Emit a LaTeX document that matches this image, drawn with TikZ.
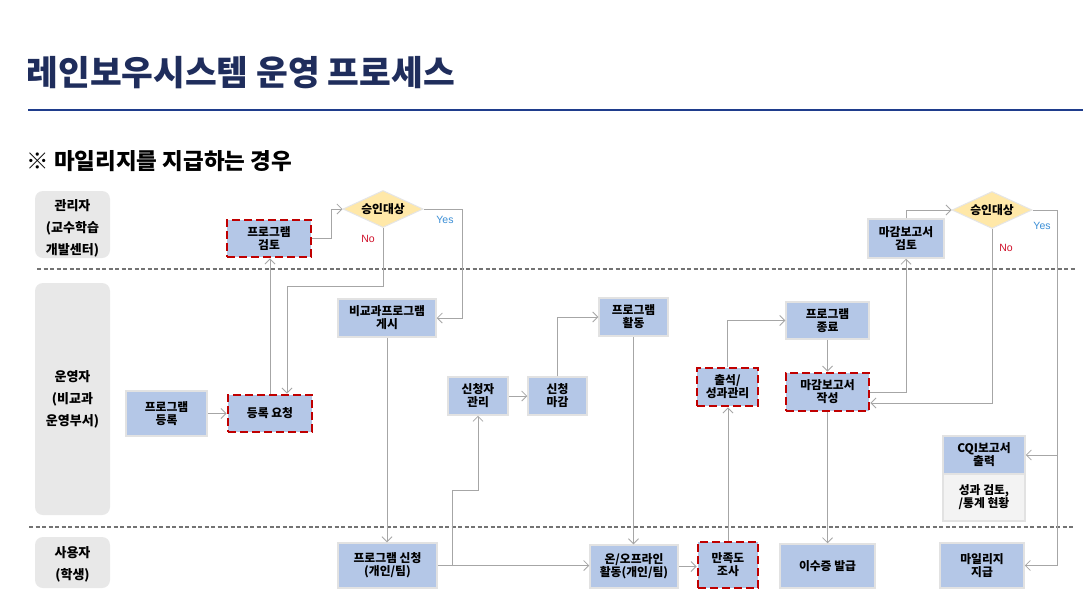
\documentclass[tikz,border=0pt]{standalone}
\usepackage{fontspec}
\setmainfont{Noto Sans CJK KR}
\newfontfamily\latinfont{Liberation Sans}
\usetikzlibrary{arrows.meta,shapes.geometric,calc}

\definecolor{boxblue}{HTML}{B4C7E7}
\definecolor{boxline}{HTML}{E2E2E2}
\definecolor{dashred}{HTML}{C00000}
\definecolor{lanegray}{HTML}{E8E8E8}
\definecolor{notegray}{HTML}{F3F3F3}
\definecolor{diafill}{HTML}{FFE8A8}
\definecolor{flowgray}{HTML}{A6A6A6}
\definecolor{titlenavy}{HTML}{1F2D5C}
\definecolor{rulenavy}{HTML}{1F3D8C}
\definecolor{yesblue}{HTML}{3A8ED6}
\definecolor{nored}{HTML}{D0102A}

\begin{document}
\begin{tikzpicture}[x=1pt,y=-1pt,>={Straight Barb[length=5pt,width=10pt]},
    proc/.style={fill=boxblue,draw=boxline,line width=1.5pt,inner sep=0pt,align=center,
      font=\bfseries\fontsize{11.8}{13}\selectfont},
    redproc/.style={proc,draw=dashred,line width=2.9pt,dash pattern=on 8pt off 4pt},
    decide/.style={diamond,fill=diafill,draw=black!10,line width=1pt,inner sep=0pt,aspect=2.1,
      font=\bfseries\fontsize{11.8}{13}\selectfont},
    lane/.style={fill=lanegray,rounded corners=8pt},
    lanetext/.style={align=center,font=\bfseries\fontsize{13}{22}\selectfont},
    flow/.style={draw=flowgray,line width=0.8pt},
    lanesep/.style={draw=black!55,line width=1.2pt,dash pattern=on 4pt off 2.5pt},
    answer/.style={font=\latinfont\fontsize{10.5}{12}\selectfont}]
    \useasboundingbox[fill=white] (0,0) rectangle (1083,590);

    % title
    \node[anchor=west,text=titlenavy,font=\bfseries\fontsize{34.5}{38}\selectfont] (title) at (23,73) {레인보우시스템 운영 프로세스};
    \draw[rulenavy,line width=2.5pt] (28,110) -- (1083,110);
    \node[anchor=west,font=\bfseries\fontsize{22.5}{26}\selectfont] (case) at (23,161) {※ 마일리지를 지급하는 경우};

    % lanes
    \fill[lane] (35,191) rectangle (110,258);
    \fill[lane] (35,283) rectangle (110,515);
    \fill[lane] (35,537) rectangle (110,588);
    \node[lanetext] (admin) at (72.5,228) {관리자\\(교수학습\\개발센터)};
    \node[lanetext] (oper) at (72.5,399) {운영자\\(비교과\\운영부서)};
    \node[lanetext] (user) at (72.5,564) {사용자\\(학생)};
    \draw[lanesep] (37,269) -- (1075,269);
    \draw[lanesep] (29,527) -- (1075,527);

    % nodes
    \node[redproc,minimum width=84,minimum height=37] (review) at (269,238.5) {프로그램\\검토};
    \node[decide,minimum width=80,minimum height=37] (ok1) at (383,209) {승인대상};
    \node[proc,minimum width=81,minimum height=45] (register) at (166.5,413.5) {프로그램\\등록};
    \node[redproc,minimum width=84,minimum height=37] (request) at (270,413.5) {등록 요청};
    \node[proc,minimum width=98,minimum height=38] (post) at (387,318) {비교과프로그램\\게시};
    \node[proc,minimum width=60,minimum height=38] (manage) at (478,396) {신청자\\관리};
    \node[proc,minimum width=59,minimum height=38] (close) at (557.5,396) {신청\\마감};
    \node[proc,minimum width=69,minimum height=38] (activity) at (633.5,317) {프로그램\\활동};
    \node[redproc,minimum width=61,minimum height=38] (attend) at (727.5,387) {출석/\\성과관리};
    \node[proc,minimum width=83,minimum height=37] (finish) at (827.5,320.5) {프로그램\\종료};
    \node[redproc,minimum width=83,minimum height=38] (write) at (827.5,392) {마감보고서\\작성};
    \node[proc,minimum width=76,minimum height=39] (rreview) at (906,238.5) {마감보고서\\검토};
    \node[decide,minimum width=80,minimum height=37] (ok2) at (992,210) {승인대상};
    \node[proc,minimum width=82,minimum height=38] (cqi) at (984,455) {CQI보고서\\출력};
    \node[proc,fill=notegray,minimum width=82,minimum height=47] (cqinote) at (984,497.5) {성과 검토,\\/통계 현황};
    \node[proc,minimum width=99,minimum height=45] (apply) at (387.5,565.5) {프로그램 신청\\(개인/팀)};
    \node[proc,minimum width=88,minimum height=43] (online) at (634,566.5) {온/오프라인\\활동(개인/팀)};
    \node[redproc,minimum width=60,minimum height=46] (survey) at (728,565) {만족도\\조사};
    \node[proc,minimum width=95,minimum height=44] (cert) at (827.5,566) {이수증 발급};
    \node[proc,minimum width=84,minimum height=45] (mileage) at (982,565.5) {마일리지\\지급};

    \node[answer,text=yesblue] (yes1) at (445,220) {Yes};
    \node[answer,text=nored] (no1) at (368,239) {No};
    \node[answer,text=yesblue] (yes2) at (1042,226) {Yes};
    \node[answer,text=nored] (no2) at (1006,248) {No};

    \coordinate (split1) at (452,566);
    \coordinate (split2) at (1057,455);

    % connectors
    \draw[flow,->] (review.east) -- ++(19,0) |- (ok1.west);
    \draw[flow,->] (ok1.east) -- ++(39,0) |- (post.east);
    \draw[flow,->] (ok1.south) -- ++(0,58) -| ([xshift=17pt]request.north);
    \draw[flow,->] (request.north) -- (request.north |- review.south);
    \draw[flow,->] (register.east) -- (request.west);
    \draw[flow,->] (post.south) -- (post.south |- apply.north);
    \draw[flow,->] (apply.east) -- (apply.east -| online.west);
    \draw[flow,->] (split1) -- ++(0,-76) -| (manage.south);
    \draw[flow,->] (manage.east) -- (close.west);
    \draw[flow,->] (close.north) |- (activity.west);
    \draw[flow,->] (activity.south) -- (activity.south |- online.north);
    \draw[flow,->] (online.east) -- (online.east -| survey.west);
    \draw[flow,->] (survey.north) -- (survey.north |- attend.south);
    \draw[flow,->] (attend.north) |- (finish.west);
    \draw[flow,->] (finish.south) -- (write.north);
    \draw[flow,->] (write.south) -- (cert.north);
    \draw[flow,->] (write.east) -| (rreview.south);
    \draw[flow,->] (rreview.north) |- (ok2.west);
    \draw[flow,->] (ok2.south) |- ($(write.east)+(0,11)$);
    \draw[flow,->] (ok2.east) -- ++(25,0) |- (mileage.east);
    \draw[flow,->] (split2) -- (cqi.east);
\end{tikzpicture}
\end{document}
